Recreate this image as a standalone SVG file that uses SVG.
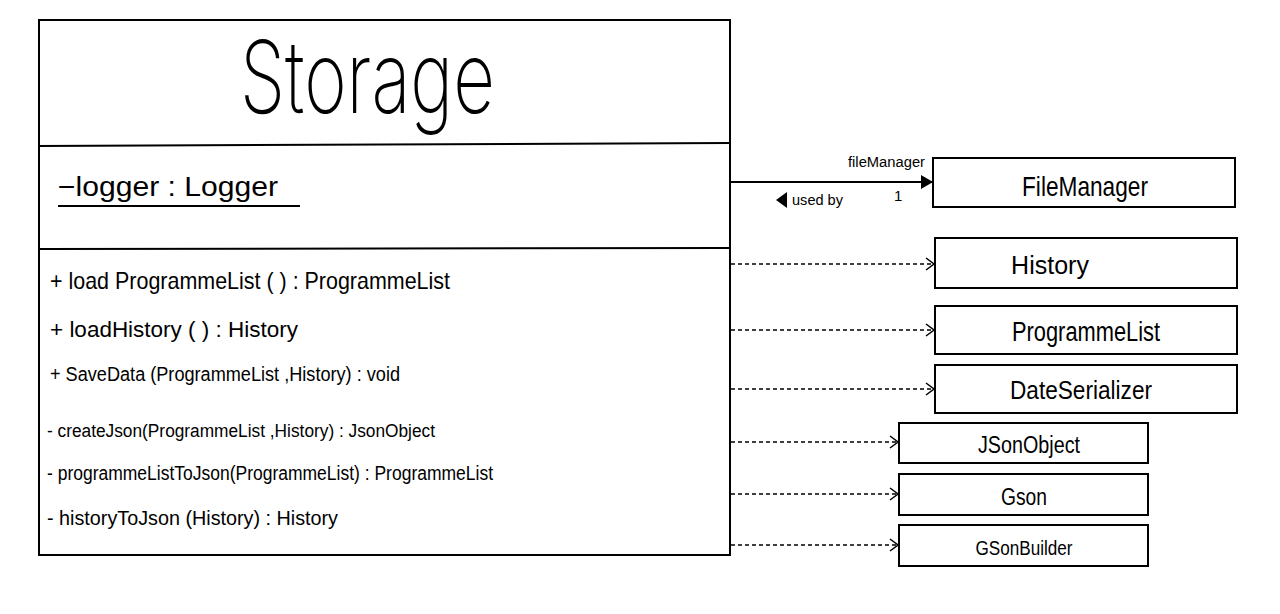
<svg xmlns="http://www.w3.org/2000/svg" width="1280" height="614" viewBox="0 0 1280 614">
<style>
.box{fill:#fff;stroke:#000;stroke-width:2}
.t{font-family:"Liberation Sans",Arial,sans-serif;fill:#000}
.c{text-anchor:middle}
.solid{stroke:#000;stroke-width:2;fill:none}
.dash{stroke:#000;stroke-width:1.5;fill:none;stroke-dasharray:4 3}
</style>
<defs>
<marker id="filled" markerWidth="12" markerHeight="14" refX="12" refY="7" orient="auto" markerUnits="userSpaceOnUse">
<path d="M0,0 L12,7 L0,14 Z" fill="#000"/>
</marker>
<marker id="open" markerWidth="10" markerHeight="14" refX="9" refY="7" orient="auto" markerUnits="userSpaceOnUse">
<path d="M1,1 L9,7 L1,13" fill="none" stroke="#000" stroke-width="1.5"/>
</marker>
</defs>
<rect width="1280" height="614" fill="#fff"/>
<g id="connectors">
<line class="solid" x1="730" y1="182" x2="933" y2="182" marker-end="url(#filled)"/>
<text class="t" x="848" y="167" font-size="14" textLength="77" lengthAdjust="spacingAndGlyphs">fileManager</text>
<text class="t" x="894" y="201" font-size="15">1</text>
<path d="M776,200 L787,192 L787,208 Z" fill="#000"/>
<text class="t" x="792" y="205" font-size="15" textLength="51" lengthAdjust="spacingAndGlyphs">used by</text>
<line class="dash" x1="731" y1="264" x2="934" y2="264" marker-end="url(#open)"/>
<line class="dash" x1="731" y1="330" x2="934" y2="330" marker-end="url(#open)"/>
<line class="dash" x1="731" y1="389" x2="934" y2="389" marker-end="url(#open)"/>
<line class="dash" x1="731" y1="442" x2="898" y2="442" marker-end="url(#open)"/>
<line class="dash" x1="731" y1="494" x2="898" y2="494" marker-end="url(#open)"/>
<line class="dash" x1="731" y1="545" x2="898" y2="545" marker-end="url(#open)"/>
</g>
<g id="storage">
<rect class="box" x="39" y="20" width="691" height="535"/>
<line class="solid" x1="39" y1="146" x2="730" y2="143"/>
<line class="solid" x1="39" y1="249" x2="730" y2="248"/>
<text x="240" y="113" font-family="Inter, 'Open Sans', 'Liberation Sans', sans-serif" font-weight="200" font-size="100" textLength="255" lengthAdjust="spacingAndGlyphs" fill="#000">Storage</text>
<text class="t" x="58" y="196" font-size="27" textLength="220" lengthAdjust="spacingAndGlyphs">−logger : Logger</text>
<line class="solid" x1="58" y1="206" x2="300" y2="206"/>
<text class="t" x="50" y="289" font-size="24" textLength="400" lengthAdjust="spacingAndGlyphs">+ load ProgrammeList ( ) : ProgrammeList</text>
<text class="t" x="50" y="337" font-size="22" textLength="248" lengthAdjust="spacingAndGlyphs">+ loadHistory ( ) : History</text>
<text class="t" x="50" y="381" font-size="20" textLength="350" lengthAdjust="spacingAndGlyphs">+ SaveData (ProgrammeList ,History) : void</text>
<text class="t" x="47" y="437" font-size="18" textLength="388" lengthAdjust="spacingAndGlyphs">- createJson(ProgrammeList ,History) : JsonObject</text>
<text class="t" x="47" y="480" font-size="20" textLength="446" lengthAdjust="spacingAndGlyphs">- programmeListToJson(ProgrammeList) : ProgrammeList</text>
<text class="t" x="47" y="525" font-size="20" textLength="291" lengthAdjust="spacingAndGlyphs">- historyToJson (History) : History</text>
</g>
<g id="filemanager">
<rect class="box" x="933" y="158" width="302" height="49"/>
<text class="t c" x="1085" y="196" font-size="28" textLength="126" lengthAdjust="spacingAndGlyphs">FileManager</text>
</g>
<g id="history">
<rect class="box" x="935" y="238" width="302" height="50"/>
<text class="t c" x="1050" y="274" font-size="25">History</text>
</g>
<g id="programmelist">
<rect class="box" x="935" y="306" width="302" height="48"/>
<text class="t c" x="1086" y="341" font-size="27" textLength="148" lengthAdjust="spacingAndGlyphs">ProgrammeList</text>
</g>
<g id="dateserializer">
<rect class="box" x="935" y="365" width="302" height="48"/>
<text class="t c" x="1081" y="399" font-size="26" textLength="142" lengthAdjust="spacingAndGlyphs">DateSerializer</text>
</g>
<g id="jsonobject">
<rect class="box" x="899" y="423" width="249" height="40"/>
<text class="t c" x="1029" y="453" font-size="23" textLength="102" lengthAdjust="spacingAndGlyphs">JSonObject</text>
</g>
<g id="gson">
<rect class="box" x="899" y="474" width="249" height="41"/>
<text class="t c" x="1024" y="505" font-size="23" textLength="46" lengthAdjust="spacingAndGlyphs">Gson</text>
</g>
<g id="gsonbuilder">
<rect class="box" x="899" y="525" width="249" height="41"/>
<text class="t c" x="1024" y="555" font-size="20" textLength="97" lengthAdjust="spacingAndGlyphs">GSonBuilder</text>
</g>
</svg>
